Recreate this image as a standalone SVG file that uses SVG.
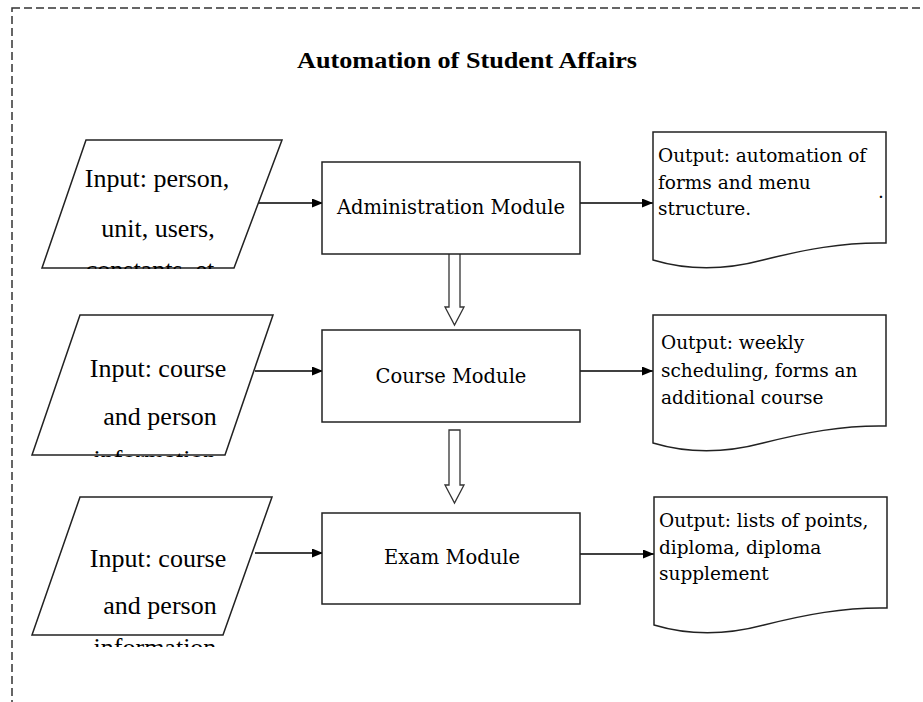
<svg xmlns="http://www.w3.org/2000/svg" width="923" height="702" viewBox="0 0 923 702">
<style>
.shape{fill:#fff;stroke:#222;stroke-width:1.5}
.line{fill:none;stroke:#000;stroke-width:1.3}
.hollow{fill:#fff;stroke:#333;stroke-width:1.3}
.in{font-family:"Liberation Serif","Times New Roman",serif;font-size:26px;fill:#000;text-anchor:middle}
.mod{font-family:"DejaVu Serif",serif;font-size:19.5px;fill:#000;text-anchor:middle}
.out{font-family:"DejaVu Serif",serif;font-size:18.5px;fill:#000}
.title{font-family:"Liberation Serif","Times New Roman",serif;font-size:24px;font-weight:bold;fill:#000;text-anchor:middle}
</style>
<defs>
<marker id="ah" markerWidth="11" markerHeight="9" refX="11" refY="4.5" orient="auto" markerUnits="userSpaceOnUse">
<path d="M0,0 L11,4.5 L0,9 Z" fill="#000"/>
</marker>
<path id="doc" d="M0,0 H233 V111 C190,110 150,118 110,128 C80,136 40,140 0,128 Z"/>
<clipPath id="c1"><rect x="0" y="0" width="923" height="269"/></clipPath>
<clipPath id="c2"><rect x="0" y="0" width="923" height="457"/></clipPath>
<clipPath id="c3"><rect x="0" y="0" width="923" height="647"/></clipPath>
</defs>
<rect x="12" y="8" width="1000" height="1000" fill="none" stroke="#333" stroke-width="1.5" stroke-dasharray="8 4"/>
<text class="title" x="467" y="68" textLength="340" lengthAdjust="spacingAndGlyphs">Automation of Student Affairs</text>

<g id="connectors">
<line class="line" x1="255" y1="203" x2="323" y2="203" marker-end="url(#ah)"/>
<line class="line" x1="255" y1="371" x2="323" y2="371" marker-end="url(#ah)"/>
<line class="line" x1="255" y1="553" x2="323" y2="553" marker-end="url(#ah)"/>
<line class="line" x1="580" y1="203" x2="653" y2="203" marker-end="url(#ah)"/>
<line class="line" x1="580" y1="371" x2="653" y2="371" marker-end="url(#ah)"/>
<line class="line" x1="580" y1="554" x2="654" y2="554" marker-end="url(#ah)"/>
<path class="hollow" d="M449,254 V307 H445 L454.5,325 L464,307 H460 V254"/>
<path class="hollow" d="M449,430 V485 H445 L454.5,503 L464,485 H460 V430 Z"/>
</g>

<g id="input1">
<polygon class="shape" points="86,140 282,140 234,268 42,268"/>
<g clip-path="url(#c1)">
<text class="in" x="157" y="187">Input: person,</text>
<text class="in" x="158" y="237">unit, users,</text>
<text class="in" x="150" y="278">constants, et</text>
</g>
</g>
<g id="input2">
<polygon class="shape" points="80,315 273,315 225,455 32,455"/>
<g clip-path="url(#c2)">
<text class="in" x="158" y="377">Input: course</text>
<text class="in" x="160" y="425">and person</text>
<text class="in" x="155" y="468">information</text>
</g>
</g>
<g id="input3">
<polygon class="shape" points="80,497 272,497 223,635 32,635"/>
<g clip-path="url(#c3)">
<text class="in" x="158" y="567">Input: course</text>
<text class="in" x="160" y="614">and person</text>
<text class="in" x="155" y="656">information</text>
</g>
</g>

<g id="admin">
<rect class="shape" x="322" y="162" width="258" height="92"/>
<text class="mod" x="451" y="214">Administration Module</text>
</g>
<g id="course">
<rect class="shape" x="322" y="330" width="258" height="92"/>
<text class="mod" x="451" y="383">Course Module</text>
</g>
<g id="exam">
<rect class="shape" x="322" y="513" width="258" height="91"/>
<text class="mod" x="452" y="564">Exam Module</text>
</g>

<g id="output1">
<use href="#doc" class="shape" transform="translate(653,132)"/>
<text class="out" x="658" y="162">Output: automation of</text>
<text class="out" x="658" y="189">forms and menu</text>
<text class="out" x="658" y="215">structure.</text>
<text class="out" x="878" y="198">.</text>
</g>
<g id="output2">
<use href="#doc" class="shape" transform="translate(653,315)"/>
<text class="out" x="661" y="349">Output: weekly</text>
<text class="out" x="661" y="377">scheduling, forms an</text>
<text class="out" x="661" y="404">additional course</text>
</g>
<g id="output3">
<use href="#doc" class="shape" transform="translate(654,497)"/>
<text class="out" x="659" y="527">Output: lists of points,</text>
<text class="out" x="659" y="554">diploma, diploma</text>
<text class="out" x="659" y="580">supplement</text>
</g>
</svg>
